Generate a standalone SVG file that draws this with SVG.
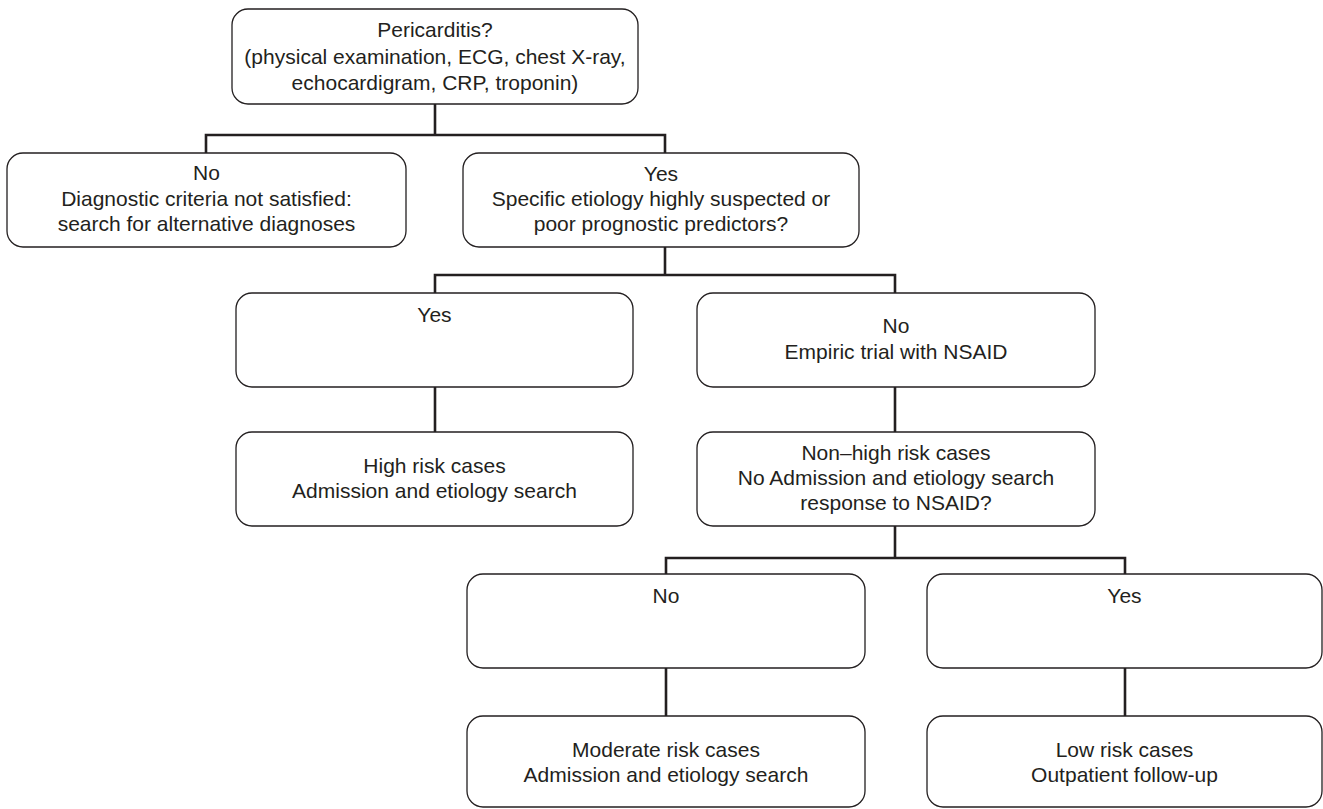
<svg xmlns="http://www.w3.org/2000/svg" width="1323" height="809" viewBox="0 0 1323 809">
<style>
.box{fill:#fff;stroke:#231f20;stroke-width:1.3}
.t{font-family:"Liberation Sans",Arial,sans-serif;font-size:21px;fill:#231f20;text-anchor:middle}
.c{fill:none;stroke:#231f20;stroke-width:2.6}
</style>
<rect width="1323" height="809" fill="#fff"/>
<g id="connectors">
<path class="c" d="M435 104V135"/>
<path class="c" d="M206 153V135H665V153"/>
<path class="c" d="M665 247V275"/>
<path class="c" d="M435 293V275H895V293"/>
<path class="c" d="M435 387V432"/>
<path class="c" d="M895 387V432"/>
<path class="c" d="M895 526V558"/>
<path class="c" d="M666 574V558H1125V574"/>
<path class="c" d="M666 668V716"/>
<path class="c" d="M1125 668V716"/>
</g>
<g id="n-pericarditis">
<rect class="box" x="232" y="9" width="406" height="95" rx="16"/>
<text class="t" x="435" y="37">Pericarditis?</text>
<text class="t" x="435" y="64">(physical examination, ECG, chest X-ray,</text>
<text class="t" x="435" y="90">echocardigram, CRP, troponin)</text>
</g>
<g id="n-no1">
<rect class="box" x="7" y="153" width="399" height="94" rx="16"/>
<text class="t" x="206.5" y="180">No</text>
<text class="t" x="206.5" y="205.5">Diagnostic criteria not satisfied:</text>
<text class="t" x="206.5" y="231">search for alternative diagnoses</text>
</g>
<g id="n-yes1">
<rect class="box" x="463" y="153" width="396" height="94" rx="16"/>
<text class="t" x="661" y="180.5">Yes</text>
<text class="t" x="661" y="205.5">Specific etiology highly suspected or</text>
<text class="t" x="661" y="231">poor prognostic predictors?</text>
</g>
<g id="n-yes2">
<rect class="box" x="236" y="293" width="397" height="94" rx="16"/>
<text class="t" x="434.5" y="322">Yes</text>
</g>
<g id="n-no2">
<rect class="box" x="697" y="293" width="398" height="94" rx="16"/>
<text class="t" x="896" y="333">No</text>
<text class="t" x="896" y="359">Empiric trial with NSAID</text>
</g>
<g id="n-high">
<rect class="box" x="236" y="432" width="397" height="94" rx="16"/>
<text class="t" x="434.5" y="473">High risk cases</text>
<text class="t" x="434.5" y="498">Admission and etiology search</text>
</g>
<g id="n-nonhigh">
<rect class="box" x="697" y="432" width="398" height="94" rx="16"/>
<text class="t" x="896" y="460">Non–high risk cases</text>
<text class="t" x="896" y="485">No Admission and etiology search</text>
<text class="t" x="896" y="510">response to NSAID?</text>
</g>
<g id="n-no3">
<rect class="box" x="467" y="574" width="398" height="94" rx="16"/>
<text class="t" x="666" y="603">No</text>
</g>
<g id="n-yes3">
<rect class="box" x="927" y="574" width="395" height="94" rx="16"/>
<text class="t" x="1124.5" y="603">Yes</text>
</g>
<g id="n-moderate">
<rect class="box" x="467" y="716" width="398" height="91" rx="16"/>
<text class="t" x="666" y="757">Moderate risk cases</text>
<text class="t" x="666" y="782">Admission and etiology search</text>
</g>
<g id="n-low">
<rect class="box" x="927" y="716" width="395" height="91" rx="16"/>
<text class="t" x="1124.5" y="757">Low risk cases</text>
<text class="t" x="1124.5" y="782">Outpatient follow-up</text>
</g>
</svg>
